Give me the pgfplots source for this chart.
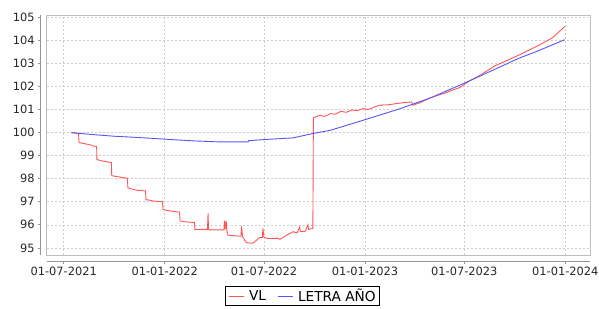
\documentclass[border=0pt]{standalone}
\usepackage{pgfplots}
\pgfplotsset{compat=1.18}
\usepackage{fontspec}
\setmainfont{DejaVu Sans}
\definecolor{vl}{RGB}{255,85,85}
\definecolor{letra}{RGB}{85,85,255}
\definecolor{gridc}{RGB}{205,205,205}
\definecolor{framec}{RGB}{190,190,190}
\definecolor{axisc}{RGB}{150,150,150}
\begin{document}
\begin{tikzpicture}[x=1pt,y=1pt]
\useasboundingbox (0,0) rectangle (599,308);
\begin{axis}[
 at={(46.7pt,53pt)}, anchor=south west,
 scale only axis, width=543.3pt, height=240pt,
 xmin=-31, xmax=959, ymin=94.69, ymax=105.1,
 axis lines=left, axis line shift=6pt,
 axis line style={-, draw=axisc, line width=0.8pt},
 tick style={draw=axisc, line width=0.6pt},
 tick align=outside, major tick length=2.5pt,
 xtick={0,184,365,549,730,914},
 xticklabels={01-07-2021,01-01-2022,01-07-2022,01-01-2023,01-07-2023,01-01-2024},
 ytick={95,96,...,105},
 /pgf/number format/assume math mode=true,
 ticklabel style={font=\fontsize{11.4}{13}\selectfont, text=black!85},
 grid=major,
 grid style={draw=gridc, dash pattern=on 2pt off 2pt, line width=0.5pt},
 after end axis/.code={\draw[framec, line width=0.8pt] (rel axis cs:0,0) rectangle (rel axis cs:1,1);},
 legend columns=2,
 legend image code/.code={\draw[#1] (0pt,0pt) -- (15pt,0pt);},
 legend style={at={(0.4708,-0.13)}, anchor=north, draw=black, line width=0.8pt,
   font=\fontsize{13.7}{15}\selectfont, inner xsep=3pt, inner ysep=1.5pt,
   nodes={inner sep=1pt},
   /tikz/every odd column/.append style={column sep=4pt},
   /tikz/every even column/.append style={column sep=10pt}},
]
\addplot[vl, line width=0.9pt] table {
x y
13 100.0
24 99.97
27 99.95
28 99.57
42 99.5
51 99.45
52 99.42
60 99.40
60.5 98.83
72 98.76
87 98.70
87.5 98.13
102 98.07
116 98.02
117 97.6
133 97.5
149 97.47
150 97.1
163 97.03
180 97.0
181 96.66
194 96.6
211 96.55
212 96.17
221 96.13
238 96.1
239 95.8
262 95.8
263 96.5
264 95.8
266 95.78
292 95.78
293 96.17
294 95.8
296 96.17
297 95.8
299 95.55
323 95.5
324 95.94
326 95.48
333 95.22
345 95.2
357 95.45
362 95.45
363 95.84
365 95.45
372 95.41
390 95.41
394 95.37
410 95.6
418 95.7
425 95.65
430 95.9
431 95.7
440 95.72
445 96.0
446 95.8
454 95.84
455 100.65
467 100.75
475 100.7
486 100.82
495 100.8
505 100.92
515 100.88
525 100.98
535 100.95
545 101.04
555 101.0
565 101.1
576 101.19
590 101.2
607 101.26
620 101.3
634 101.33
636 101.19
650 101.3
667 101.5
695 101.72
722 101.96
740 102.25
760 102.5
786 102.9
810 103.15
831 103.38
862 103.74
890 104.1
913 104.6
};
\addlegendentry{VL}
\addplot[letra, line width=0.9pt] table {
x y
15 100.0
25 99.97
60 99.9
93 99.84
126 99.8
161 99.75
194 99.7
236 99.64
279 99.6
336 99.6
337 99.65
367 99.7
418 99.77
454 99.96
486 100.1
545 100.53
607 100.99
667 101.49
722 102.06
740 102.25
786 102.75
831 103.24
862 103.52
913 104.03
};
\addlegendentry{LETRA AÑO}
\end{axis}
\end{tikzpicture}
\end{document}
